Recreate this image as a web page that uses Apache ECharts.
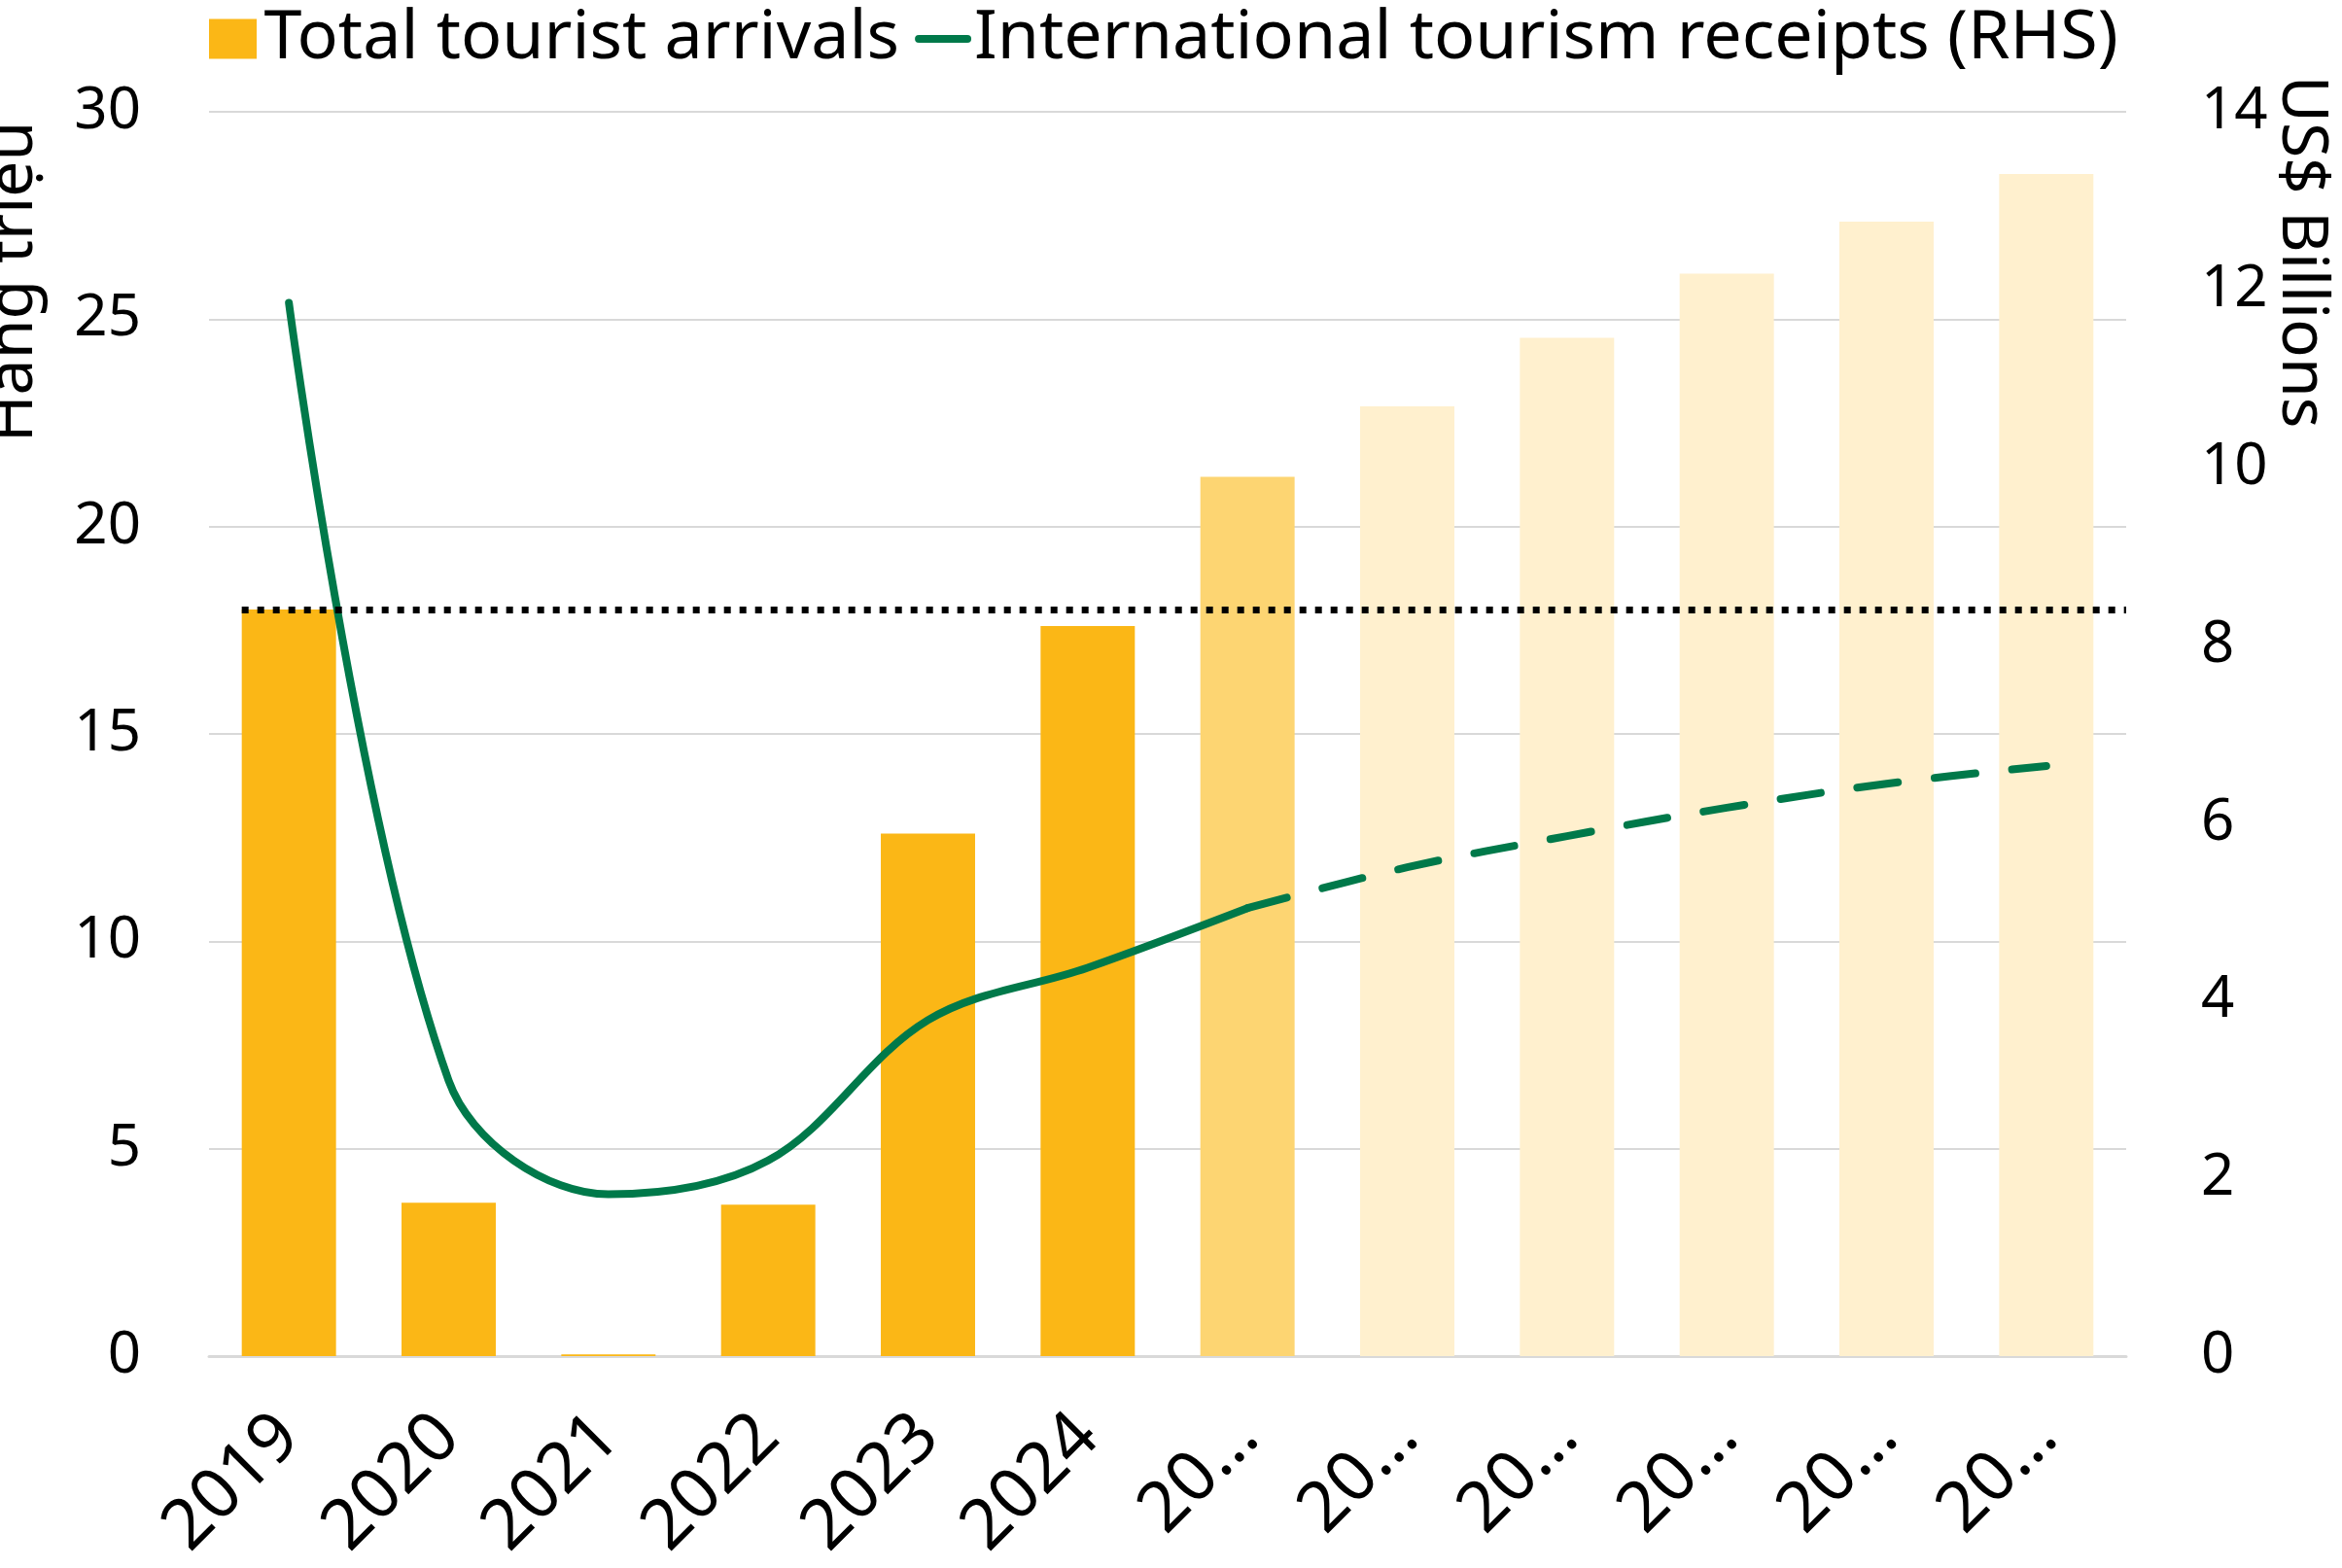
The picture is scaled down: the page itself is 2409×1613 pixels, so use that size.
<!DOCTYPE html>
<html>
<head>
<meta charset="utf-8">
<script src="https://cdn.jsdelivr.net/npm/echarts@6/dist/echarts.min.js"></script>
<style>
html,body{margin:0;padding:0;background:#fff;}
#c{width:2409px;height:1613px;}
</style>
</head>
<body>
<div id="c"></div>
<script>
// ---- data ----
const categories = ["2019","2020","2021","2022","2023","2024","2025","2026","2027","2028","2029","2030"];
const xTickLabels = ["2019","2020","2021","2022","2023","2024","20…","20…","20…","20…","20…","20…"];
const barStatus = ["actual","actual","actual","actual","actual","actual","estimate","forecast","forecast","forecast","forecast","forecast"];
const touristArrivals = [18.0, 3.7, 0.04, 3.65, 12.6, 17.6, 21.2, 22.9, 24.55, 26.1, 27.35, 28.5];
const receiptsActual = [11.85, 3.1, 1.82, 2.2, 3.78, 4.37, 5.04, null, null, null, null, null];
const receiptsForecast = [null, null, null, null, null, null, 5.04, 5.5, 5.85, 6.17, 6.44, 6.64];
const referenceLevel = 18.0;
const leftTicks = {min:0, max:30, interval:5};
const rightTicks = {min:0, max:14, interval:2};
const leftTitle = "Hàng triệu";
const rightTitle = "US$ Billions";
const barName = "Total tourist arrivals";
const lineName = "International tourism receipts (RHS)";

// ---- styles ----
const FONT = "'Noto Sans', 'Open Sans', sans-serif";
const statusColor = {actual:"#FBB716", estimate:"#FDD572", forecast:"#FFF0CE"};
const green = "#00794A";

const chart = echarts.init(document.getElementById('c'), null, {renderer:'canvas'});

const option = {
  animation:false,
  backgroundColor:'#ffffff',
  textStyle:{fontFamily:FONT, color:'#000'},
  grid:{left:215, right:222, top:115, bottom:218, containLabel:false},
  legend:{
    left:210, top:0, itemGap:16, itemWidth:58, itemHeight:41,
    textStyle:{fontSize:70, fontFamily:FONT, color:'#000', padding:[0,0,0,-2]},
    data:[
      {name:barName, icon:'path://M0,0H49V41H0Z', itemStyle:{color:statusColor.actual}},
      {name:lineName, icon:'path://M4,0H54A4,4 0 0 1 54,8H4A4,4 0 0 1 4,0Z', itemStyle:{color:green}}
    ]
  },
  xAxis:{
    type:'category', data:categories,
    axisLine:{lineStyle:{color:'#D9D9D9', width:3}},
    axisTick:{show:false},
    axisLabel:{rotate:45, fontSize:72, color:'#000', margin:72, fontFamily:FONT,
      formatter:(v, i) => xTickLabels[i]}
  },
  yAxis:[
    {type:'value', min:leftTicks.min, max:leftTicks.max, interval:leftTicks.interval,
     axisLabel:{fontSize:60, color:'#000', margin:70, fontFamily:FONT},
     splitLine:{lineStyle:{color:'#D9D9D9', width:2}},
     axisLine:{show:false}, axisTick:{show:false}},
    {type:'value', min:rightTicks.min, max:rightTicks.max, interval:rightTicks.interval,
     axisLabel:{fontSize:60, color:'#000', margin:77, fontFamily:FONT},
     splitLine:{show:false}, axisLine:{show:false}, axisTick:{show:false}}
  ],
  graphic:[
    {type:'text', x:14, y:290, rotation:Math.PI/2,
     style:{text:leftTitle, font:"66px "+FONT, fill:'#000', align:'center', verticalAlign:'middle'}},
    {type:'text', x:2367, y:259, rotation:-Math.PI/2,
     style:{text:rightTitle, font:"66px "+FONT, fill:'#000', align:'center', verticalAlign:'middle'}}
  ],
  series:[
    {id:'bars', name:barName, type:'bar', yAxisIndex:0, barCategoryGap:'41%',
     itemStyle:{color:statusColor.actual},
     data: touristArrivals.map((v,i)=>({value:v, itemStyle:{color:statusColor[barStatus[i]]}})),
     z:1},
    {name:lineName, type:'line', yAxisIndex:1, data:receiptsActual, smooth:0.35,
     showSymbol:false, symbol:'none', lineStyle:{color:green, width:8, cap:'round'},
     itemStyle:{color:green}, z:3},
    {name:lineName+' forecast', type:'line', yAxisIndex:1, data:receiptsForecast, smooth:0.35,
     showSymbol:false, symbol:'none', lineStyle:{color:green, width:8, type:[42,38], cap:'round'},
     itemStyle:{color:green}, z:3}
  ]
};
chart.setOption(option);

// reference dotted line: from left edge of first bar to right edge of plot, at referenceLevel
const barLayout = chart.getModel().getSeriesByIndex(0).getData().getItemLayout(0);
const yPix = chart.convertToPixel({yAxisIndex:0}, referenceLevel);
const gridRect = chart.getModel().getComponent('grid',0).coordinateSystem.getRect();
chart.setOption({series:[{id:'bars', markLine:{
  symbol:'none', silent:true, label:{show:false},
  lineStyle:{color:'#000', width:7, type:[7,9]},
  data:[[{x:barLayout.x, y:yPix},{x:gridRect.x+gridRect.width, y:yPix}]]
}}]});
</script>
</body>
</html>
